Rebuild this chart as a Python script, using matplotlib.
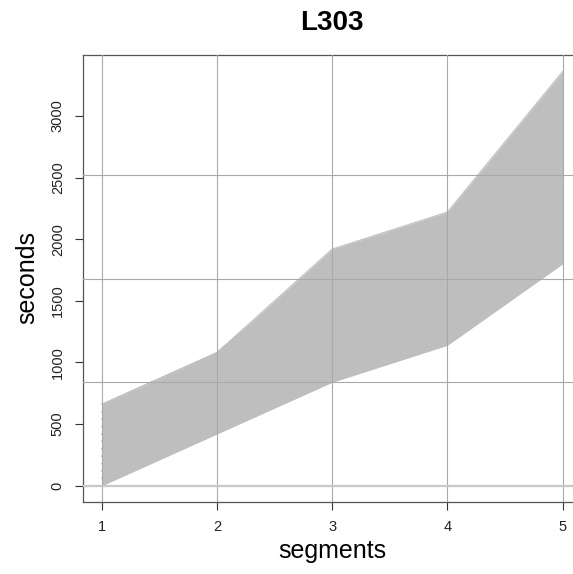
import numpy as np
import matplotlib
matplotlib.use('Agg')
import matplotlib.pyplot as plt

plt.rcParams['font.family'] = ['Liberation Sans', 'DejaVu Sans']

title = 'L303'
segments = [1, 2, 3, 4, 5]

# cumulative seconds of each trip at each segment (one list per segment)
t_seg1 = [0, 0, 0, 60, 60, 120, 120, 180, 180, 240, 240, 300, 300,
          360, 360, 420, 420, 480, 480, 540, 540, 600, 600, 660, 660]
t_seg2 = [420, 480, 540, 480, 540, 540, 600, 600, 660, 660, 720, 720, 780,
          780, 840, 840, 900, 900, 960, 960, 1020, 1020, 1080, 1080, 1080]
t_seg3 = [840, 900, 960, 900, 960, 1020, 1080, 1020, 1140, 1140, 1200, 1260, 1320,
          1260, 1380, 1440, 1500, 1440, 1560, 1620, 1680, 1740, 1800, 1860, 1920]
t_seg4 = [1140, 1200, 1260, 1200, 1260, 1320, 1380, 1320, 1440, 1440, 1500, 1560, 1620,
          1560, 1680, 1740, 1800, 1740, 1860, 1920, 1980, 2040, 2100, 2160, 2220]
t_seg5 = [1800, 1860, 1920, 1980, 2040, 2100, 2160, 2040, 2220, 2280, 2340, 2400, 2460,
          2340, 2520, 2640, 2580, 2700, 2760, 2880, 2940, 3060, 3120, 3240, 3360]

y_ticks = [0, 500, 1000, 1500, 2000, 2500, 3000]
h_lines = [840, 1680, 2520]

times = np.array([t_seg1, t_seg2, t_seg3, t_seg4, t_seg5])

W, H = 573, 574
fig = plt.figure(figsize=(W / 100, H / 100), dpi=100)
ax = fig.add_axes([83.3 / W, 1 - 501.7 / H, (581 - 83.3) / W, (501.7 - 55) / H])

line_col = '#bebebe'
# solid band between the outer trips, then every trip on top
ax.fill_between(segments, times.min(axis=1), times.max(axis=1), color=line_col, lw=0, zorder=1)
for i in range(times.shape[1]):
    ax.plot(segments, times[:, i], color=line_col, lw=0.8, zorder=2)

# grid on top of the lines
for x in segments:
    ax.axvline(x, color='#a9a9a9', lw=0.8, zorder=3)
for y in h_lines:
    ax.axhline(y, color='#a9a9a9', lw=0.8, zorder=3)
ax.axhline(0, color='#c8c8c8', lw=1.6, zorder=3)

ax.set_xlim(0.84, 5.16)
ax.set_ylim(-129.8, 3495)
ax.set_xticks(segments)
ax.set_yticks(y_ticks)
ax.tick_params(axis='both', direction='out', length=5.8, width=0.8, color='#333333',
               labelsize=10.5, pad=7.5, labelcolor='#222222')
ax.tick_params(axis='y', labelrotation=90)
for lab in ax.get_yticklabels():
    lab.set_va('center')

for s in ax.spines.values():
    s.set_color('#555555')
    s.set_linewidth(0.9)

cx = (83.3 + 581) / 2 / W
fig.text(cx, 1 - 23 / H, title, ha='center', va='center', fontsize=20, fontweight='bold')
fig.text(cx, 1 - 558 / H, 'segments', ha='center', va='baseline', fontsize=18)
fig.text(27 / W, 1 - 278 / H, 'seconds', ha='center', va='center', rotation=90, fontsize=18)

fig.savefig('out.png', dpi=100)
